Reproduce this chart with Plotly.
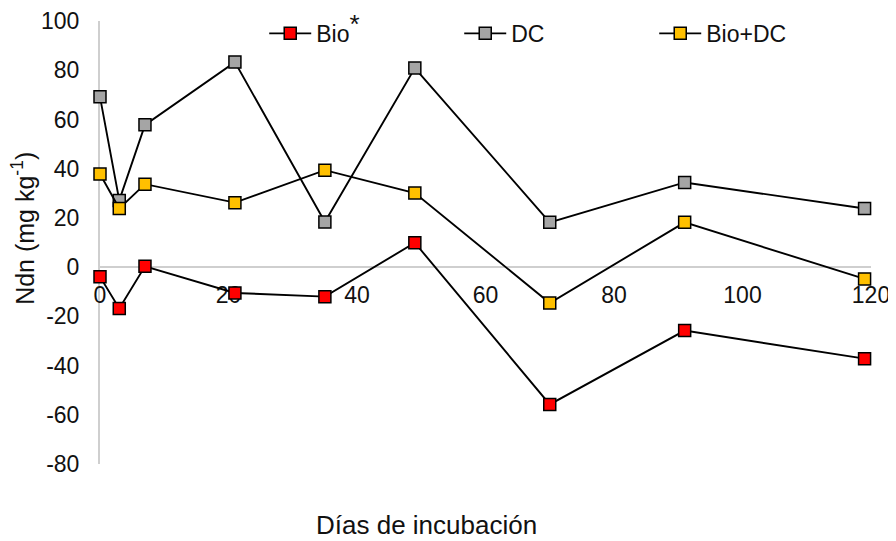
# Ndn vs días de incubación
import plotly.graph_objects as go

dias = [0, 3, 7, 21, 35, 49, 70, 91, 119]
bio = [-3.9, -16.8, 0.3, -10.5, -12.0, 9.9, -55.8, -25.8, -37.2]
dc = [69.2, 27.1, 57.8, 83.3, 18.3, 80.9, 18.2, 34.4, 23.8]
bio_dc = [37.8, 23.8, 33.7, 26.2, 39.4, 30.1, -14.6, 18.2, -4.8]

x_ticks = [0, 20, 40, 60, 80, 100, 120]
y_ticks = [-80, -60, -40, -20, 0, 20, 40, 60, 80, 100]
y_labels = [str(v) for v in y_ticks]  # guion normal, no signo menos unicode

series = [
    ("Bio<sup><span style='font-size:26px'>*</span></sup>", bio, "#FF0000"),
    ("DC", dc, "#A5A5A5"),
    ("Bio+DC", bio_dc, "#FFC000"),
]

FONT = "Liberation Sans, Arial, sans-serif"

fig = go.Figure()

for name, vals, color in series:
    fig.add_trace(go.Scatter(
        x=dias,
        y=vals,
        mode="lines+markers",
        name=name,
        line=dict(color="black", width=1.9),
        marker=dict(symbol="square", size=12, color=color,
                    line=dict(color="black", width=1.5)),
        cliponaxis=False,
    ))

# la página tiene 8 px de margen en el body, por eso 888x533
fig.update_layout(
    width=888,
    height=533,
    margin=dict(l=92, r=25, t=13, b=77, autoexpand=False),
    plot_bgcolor="white",
    paper_bgcolor="white",
    font=dict(family=FONT, size=23, color="#111111"),
    showlegend=True,
    legend=dict(
        orientation="h",
        x=0.213, xanchor="left",
        y=0.972, yanchor="middle",
        itemwidth=42,
        entrywidth=138,
        entrywidthmode="pixels",
        bgcolor="rgba(0,0,0,0)",
        font=dict(size=23),
    ),
    xaxis=dict(
        range=[0, 120],
        tickvals=x_ticks,
        anchor="free",
        position=80 / 180,
        showline=True,
        linecolor="#CFCFCF",
        linewidth=2,
        showgrid=False,
        zeroline=False,
        ticks="",
        ticklabelstandoff=7,
        automargin=False,
        layer="below traces",
    ),
    yaxis=dict(
        range=[-80, 100],
        tickvals=y_ticks,
        ticktext=y_labels,
        showline=True,
        linecolor="#CFCFCF",
        linewidth=2,
        showgrid=False,
        zeroline=False,
        ticks="",
        ticklabelstandoff=14,
        automargin=False,
        layer="below traces",
    ),
    annotations=[
        dict(text="Días de incubación", xref="paper", yref="paper",
             x=0.4235, y=-0.138, xanchor="center", yanchor="middle",
             showarrow=False, font=dict(size=26)),
        dict(text="Ndn (mg kg<sup>-1</sup>)", xref="paper", yref="paper",
             x=-0.0999, y=0.533, xanchor="center", yanchor="middle",
             textangle=-90, showarrow=False, font=dict(size=25)),
    ],
)

fig.write_html("out.html")
